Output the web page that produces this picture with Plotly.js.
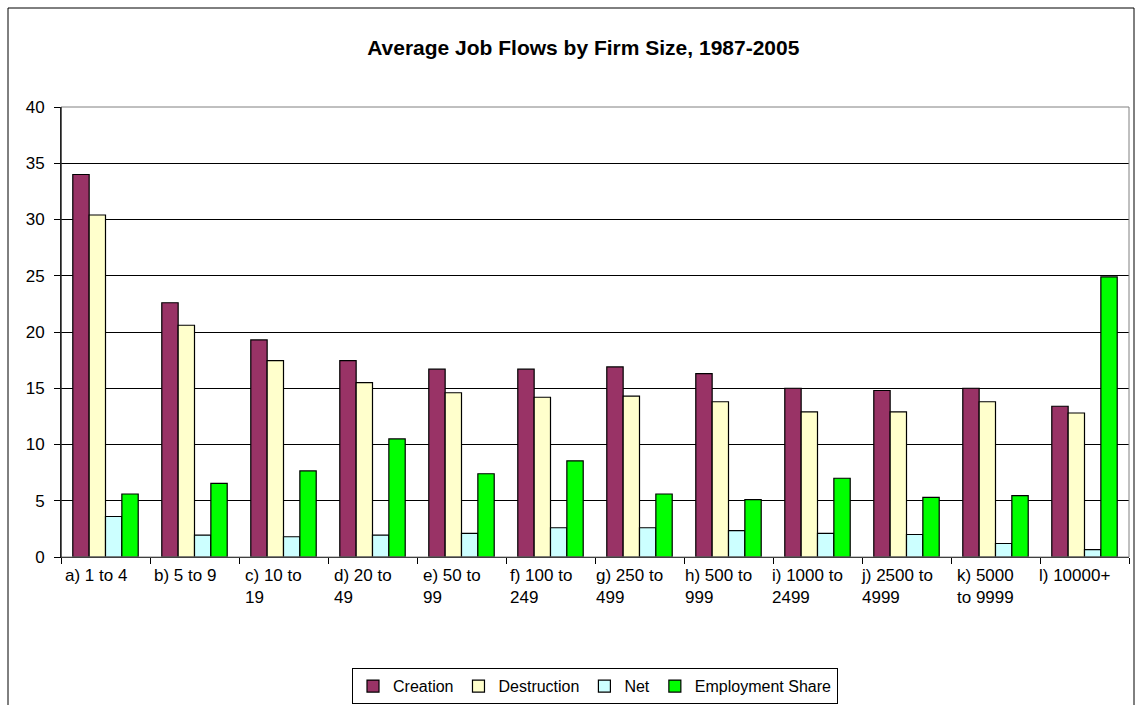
<!DOCTYPE html>
<html>
<head>
<meta charset="utf-8">
<script src="https://cdn.plot.ly/plotly-3.0.1.min.js"></script>
<style>
  html, body { margin: 0; padding: 0; background: #fff; }
  #chart { width: 1137px; height: 705px; }
</style>
</head>
<body>
<div id="chart"></div>
<script>
const categories = ["a) 1 to 4", "b) 5 to 9", "c) 10 to 19", "d) 20 to 49", "e) 50 to 99", "f) 100 to 249",
  "g) 250 to 499", "h) 500 to 999", "i) 1000 to 2499", "j) 2500 to 4999", "k) 5000 to 9999", "l) 10000+"];
const tickLabels = ["a) 1 to 4", "b) 5 to 9", "c) 10 to<br>19", "d) 20 to<br>49", "e) 50 to<br>99", "f) 100 to<br>249",
  "g) 250 to<br>499", "h) 500 to<br>999", "i) 1000 to<br>2499", "j) 2500 to<br>4999", "k) 5000<br>to 9999", "l) 10000+"];
const creation = [34.0, 22.6, 19.3, 17.45, 16.7, 16.7, 16.9, 16.3, 15.0, 14.8, 15.0, 13.4];
const destruction = [30.4, 20.6, 17.45, 15.5, 14.6, 14.2, 14.3, 13.8, 12.9, 12.9, 13.8, 12.8];
const net = [3.6, 1.95, 1.8, 1.95, 2.1, 2.6, 2.6, 2.35, 2.1, 2.0, 1.2, 0.65];
const employmentShare = [5.6, 6.55, 7.65, 10.5, 7.4, 8.55, 5.6, 5.1, 7.0, 5.3, 5.45, 24.9];
const yTicks = [0, 5, 10, 15, 20, 25, 30, 35, 40];

const seriesNames = ["Creation", "Destruction", "Net", "Employment Share"];
const seriesColors = ["#993366", "#FFFFCC", "#CCFFFF", "#00FF00"];
const seriesValues = [creation, destruction, net, employmentShare];

const traces = seriesValues.map((vals, i) => ({
  type: "bar",
  name: seriesNames[i],
  x: categories,
  y: vals,
  marker: { color: seriesColors[i], line: { color: "#000000", width: 1.2 } },
  hoverinfo: "x+y+name"
}));

const font = "Liberation Sans, Arial, sans-serif";

// category tick labels as left-aligned text blocks under each category
const labelAnnotations = categories.map((c, i) => ({
  x: c, xref: "x",
  y: 0, yref: "paper",
  text: tickLabels[i],
  showarrow: false,
  xanchor: "center", yanchor: "top",
  align: "left",
  xshift: -10, yshift: -7,
  font: { family: font, size: 17, color: "#000000" }
}));

const layout = {
  width: 1137,
  height: 705,
  paper_bgcolor: "#ffffff",
  plot_bgcolor: "#ffffff",
  margin: { l: 61, r: 8, t: 107, b: 148, autoexpand: false },
  barmode: "group",
  bargap: 0.265,
  bargroupgap: 0,
  font: { family: font, size: 17, color: "#000000" },
  title: {
    text: "<b>Average Job Flows by Firm Size, 1987-2005</b>",
    font: { family: font, size: 21, color: "#000000" },
    x: 0.513, xanchor: "center",
    y: 0.933, yanchor: "middle"
  },
  xaxis: {
    type: "category",
    tickmode: "array",
    tickvals: categories,
    ticktext: tickLabels,
    showticklabels: false,
    tickson: "boundaries",
    ticks: "outside",
    ticklen: 6,
    tickcolor: "#000000",
    showline: true,
    linecolor: "#000000",
    linewidth: 1,
    showgrid: false,
    automargin: false,
    fixedrange: true
  },
  yaxis: {
    range: [0, 40],
    tickmode: "array",
    tickvals: yTicks,
    ticks: "outside",
    ticklen: 6,
    tickcolor: "#000000",
    showline: true,
    linecolor: "#000000",
    linewidth: 1,
    showgrid: true,
    gridcolor: "#000000",
    gridwidth: 1,
    zeroline: false,
    ticklabelstandoff: 6,
    tickfont: { family: font, size: 17, color: "#000000" },
    automargin: false,
    fixedrange: true
  },
  showlegend: true,
  legend: {
    orientation: "h",
    x: 0.5, xanchor: "center",
    y: -0.247, yanchor: "top",
    bordercolor: "#000000",
    borderwidth: 1,
    bgcolor: "#ffffff",
    font: { family: font, size: 16, color: "#000000" },
    itemwidth: 30,
    tracegroupgap: 0
  },
  annotations: labelAnnotations,
  shapes: [
    { type: "rect", xref: "paper", yref: "paper", x0: 0, x1: 1, y0: 0, y1: 1,
      line: { color: "#808080", width: 1 }, fillcolor: "rgba(0,0,0,0)", layer: "above" },
    { type: "line", xref: "paper", yref: "paper", x0: 0, x1: 0, y0: 0, y1: 1,
      line: { color: "#000000", width: 1 } },
    { type: "rect", xref: "paper", yref: "paper",
      x0: -53 / 1068, x1: 1 + 5 / 1068, y0: -160 / 450, y1: 1 + 99 / 450,
      line: { color: "#000000", width: 1 }, fillcolor: "rgba(0,0,0,0)", layer: "below" }
  ]
};

Plotly.newPlot("chart", traces, layout, { displayModeBar: false, staticPlot: true });
</script>
</body>
</html>
